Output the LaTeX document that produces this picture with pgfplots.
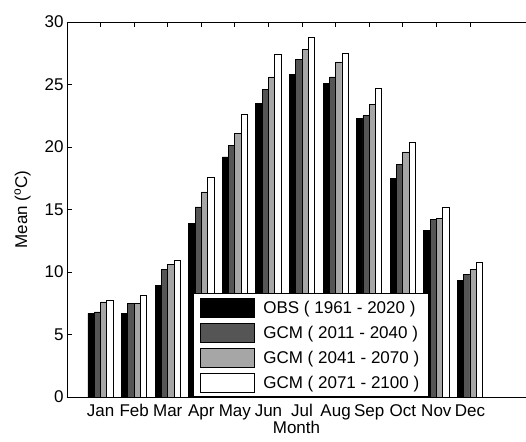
\documentclass[border=0pt]{standalone}
\usepackage{fontspec}
\setmainfont{Liberation Sans}
\usepackage{pgfplots}
\pgfplotsset{compat=1.18}
\usetikzlibrary{calc}

\definecolor{gcmdark}{HTML}{555555}
\definecolor{gcmlight}{HTML}{A6A6A6}

\pgfplotsset{
  swatch/.style={
    legend image code/.code={
      \draw[##1,line width=0.9pt] (0pt,-9.5pt) rectangle (54pt,9.5pt);
    },
  },
  monthbar/.style={draw=black, line width=0.8pt},
}

\begin{document}
\begin{tikzpicture}[font=\fontsize{17}{20}\selectfont]
\begin{axis}[
  scale only axis,
  width=459pt, height=375pt,
  xmin=0, xmax=13.67,
  ymin=0, ymax=30,
  axis x line*=box, axis y line*=left,
  ybar=0pt, bar width=6.3pt,
  xtick={1,...,12},
  xticklabels={Jan,Feb,Mar,Apr,May,Jun,Jul,Aug,Sep,Oct,Nov,Dec},
  ytick={0,5,...,30},
  tick align=inside,
  major tick length=5pt,
  tick style={line width=0.8pt, black},
  axis line style={line width=0.9pt},
  xticklabel style={yshift=-4pt},
  /pgf/number format/assume math mode=true,
  xlabel={Month},
  xlabel style={yshift=3pt, inner sep=1pt},
  ylabel={Mean (\textsuperscript{o}C)},
  ylabel style={yshift=7pt},
  legend cell align=left,
  legend style={
    at={(0.2745,0)}, anchor=south west,
    draw=black, line width=0.9pt,
    inner xsep=7pt, inner ysep=4pt,
    row sep=5pt, column sep=6pt,
  },
]

% observed
\addplot[monthbar, fill=black, swatch] coordinates {
(1,6.7) (2,6.7) (3,8.9) (4,13.9) (5,19.2) (6,23.5)
(7,25.8) (8,25.1) (9,22.3) (10,17.5) (11,13.3) (12,9.3)
};

% gcm 2011-2040
\addplot[monthbar, fill=gcmdark, swatch] coordinates {
(1,6.8) (2,7.5) (3,10.2) (4,15.2) (5,20.1) (6,24.6)
(7,27.0) (8,25.6) (9,22.5) (10,18.6) (11,14.2) (12,9.8)
};

% gcm 2041-2070
\addplot[monthbar, fill=gcmlight, swatch] coordinates {
(1,7.6) (2,7.5) (3,10.6) (4,16.4) (5,21.1) (6,25.6)
(7,27.8) (8,26.8) (9,23.4) (10,19.6) (11,14.3) (12,10.2)
};

% gcm 2071-2100
\addplot[monthbar, fill=white, swatch] coordinates {
(1,7.7) (2,8.1) (3,10.9) (4,17.6) (5,22.6) (6,27.4)
(7,28.8) (8,27.5) (9,24.7) (10,20.4) (11,15.2) (12,10.8)
};

\legend{OBS ( 1961 - 2020 ), GCM ( 2011 - 2040 ), GCM ( 2041 - 2070 ), GCM ( 2071 - 2100 )}
\end{axis}
\pgfresetboundingbox
\path ($(current axis.south west)+(-67pt,-44pt)$) rectangle ($(current axis.south west)+(459pt,397pt)$);
\end{tikzpicture}
\end{document}
